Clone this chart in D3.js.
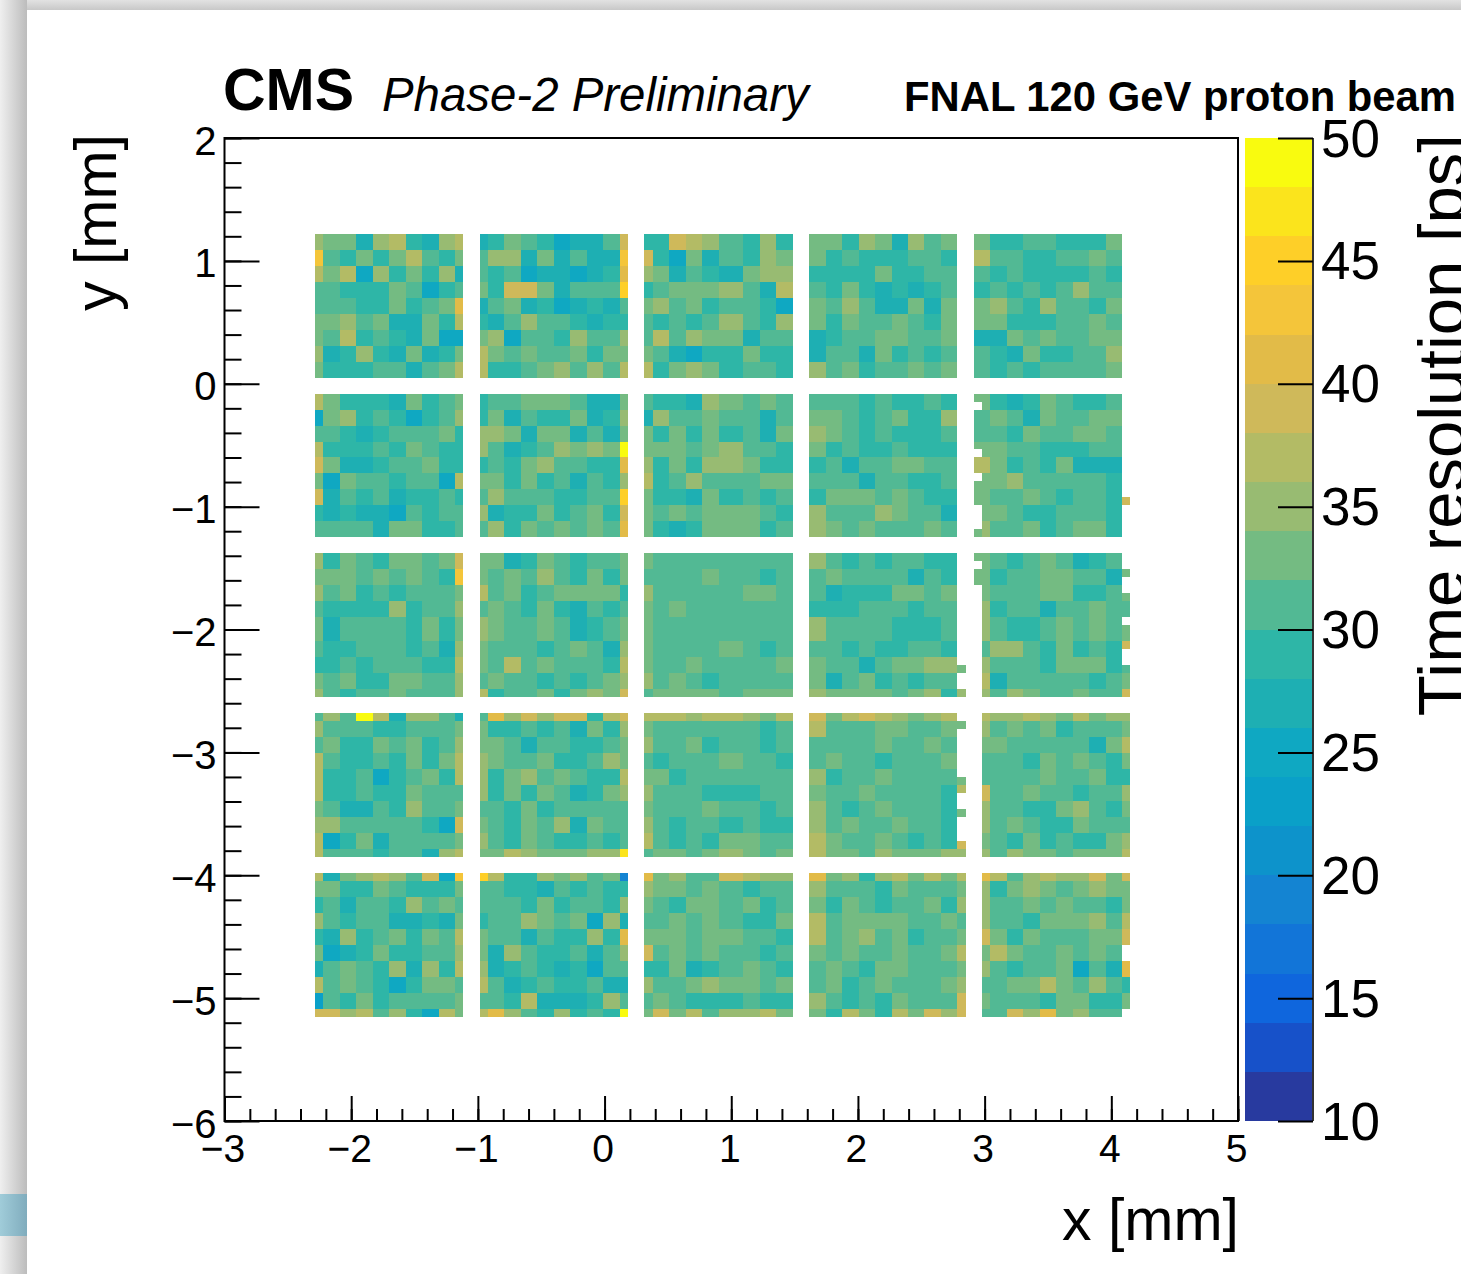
<!DOCTYPE html>
<html lang="en">
<head>
  <meta charset="UTF-8">
  <title>Time resolution map</title>
  <script src="https://d3js.org/d3.v7.min.js"></script>
  <style>
    body { margin: 0; background: #fff; overflow: hidden; }
    svg { display: block; font-family: "Liberation Sans", Arial, sans-serif; }
    .domain { display: none; }
  </style>
</head>
<body>
<svg></svg>
<script>
  // one character per cell: colour band index in base 20 (9 = 28-30 ps, a = 30-32 ps ...), '.' = no data
  const pad11 = ["cbb8cd98cd","ga9b9bda9b","dbd7c9b9c8","aa999ba79a","aaa99b9abf","bbcab88b9d","bad9a98b77","c89c98b89b","b999aa8abd"]
  const pad12 = ["89ba9788ae","acc8b8a88g","a9a788789f","b9eeb8aaah","8ab897898a","98acaa9899","bc7aa9caac","dbabaab9bb","d99abcacad"]
  const pad13 = ["99edca9c9","e97b8a9cb","cb8a98bcc","9abbbca8d","bcab9aa97","a9a9aca9c","adacbb8aa","ba8799b99","d9bcb9aa9"]
  const pad14 = ["bb9cb8cab","b9a999aa9","9999b99aa","a9b98989a","baca88b8b","b9baaba9b","89aabbaab","8aa8b9a9a","cab9aabab"]
  const pad15 = ["b99aa999b","daa99aaba","a9a9999a9","9a9a9acaa","bca9caa9b","bb999aaba","88babaabb","a98b99aac","a9a9aaaab"]

  const pad21 = ["db9998b9ab","7bc9a979ac","aa989aaab9","d999a9ba99","eb889aab99","b7baa9aa7d","e8a9a899a9","989887a9aa","aaaa8bb99a"]
  const pad22 = ["9aabbba88b","9b8a99b89c","ccb8bb8a8b","ca89acbcbj","9a9bcaa99f","bb9b9a8a9c","acaaa99aah","c899b9ab9e","ac9bababaf"]
  const pad23 = ["a998cbaba","8caabaa8a","b9b9b9a8b","bbbabcaa9","c9b9ccb99","d9acaaabb","b998b9a9a","bababbba9","b989bbb9a"]
  const pad24 = ["aaa9a99a9","bba9ab99c","cba9a999a","b9a99a999","9a8aabbaa","aaa8aa99a","9bbbaba99","caaacbaa8","cbabaaaba"]
  const pad25 = ["989ba99a","ba8baabb","a9baabba","baa999aa","b9a9b888","bcaaaaa9","aaba9aa9","ba99aaa9","aab9abb9"]

  const pad31 = ["c9ba9bbabe","bbbababa9g","cab9a9aaab","a9999c9aac","b8aaaa9b9b","a99aaa9a8c","99a9aaa99d","bab99bbaac","ca9aabaaac"]
  const pad32 = ["bb89ba9aab","babaca9b9b","dab9abbbb9","aba9b98a9a","cbaaba89ab","baaa9aba8c","badabaaa9d","abaa9a9abc","d9aab9bcbe"]
  const pad33 = ["baaaaaaaa","aaaabaa9a","caaaaabba","babaaaaaa","baaaaaaaa","baaaaba9a","baabaaaab","caba9aaaa","abbbbabbb"]
  const pad34 = ["ca9a9aa99","abaaaa8a9","a8999bbab","999aaa9aa","caaaa999a","aa9a99aa9","baa8abbcc","b8ab9a9aa","cbbbbabc9"]
  const pad35 = ["a9aba89a","9aabbaa8","aaabb99a","9aa8aaba","a99ababa","cca9b9a9","aaa9bbb9","8aaaaa9a","acbaabaa"]

  const pad41 = ["acajd8cca8","caaa99aaab","ab99bab9ac","da99a9b9bd","d99a79ab9d","d99a99baaa","ba88a9caab","ccaaaaa97e","d79b8aaaab","daaa9aa8cd"]
  const pad42 = ["afcecee9de","b99a9a8b9c","bba8aa99ab","cbaab99acb","c9bcaba99d","c9b9ba89bc","aa9b9aaaaa","ba9bac8baa","ca9ba99a9a","bbdcbbbcci"]
  const pad43 = ["dddcddcbd","baaaaaa9a","caab9aa9a","a9aaabaa9","bb9aaaaaa","caaa999aa","baaabaa9a","ca9aa9a99","da9a9bbaa","abbabcbab"]
  const pad44 = ["ebdedcbcd","daaabbaab","aaaabaaba","abaa9aaab","c9aabaaaa","baabaaaa9","ca9abaaa9","cabaabaa9","dbaaba9a9","dbbacbbbc"]
  const pad45 = ["dccdcbdbcc","cabab9aaab","bbaaaaa8bd","aaa9baba9b","aaaabaab99","eaabaa9aac","caa99bca9b","caba99baaa","ba9b9a99bc","cacbbabbbd"]

  const pad51 = ["d8bcdcae7g","bb99ba999b","9a8aa9caba","ca9aa8898b","98c9ab9bad","b789b99aac","8aba9c8c9d","daba979bba","6a9b9aaaab","eecdac97db"]
  const pad52 = ["hd99cbcab4","aa998a9a99","aaa9b9aa9c","9aacbab7c8","baa8a99c9f","b8ca99a8ac","c89a9897aa","da89a99a88","aa9d8889ca","dfca9c9a9j"]
  const pad53 = ["fbcaaedcc","cbbaba9aa","ba9bbab9a","aababa99b","bbbabbaa9","eababaa9a","99b89aba9","caabcbbab","aba999a99","bebdaccdb"]
  const pad54 = ["fbc9cdbdb","caaa9baaa","b9ba9aab9","dabbbbaab","dabcab9aa","babaabaab","aba9bbaaa","ab9abaaab","ca9a9baaa","b9db9dbec"]
  const pad55 = ["fdacdccebe","c9bcbabcbb","caababaa9b","caa9bbbcad","eb9baaabbe","bdbaababa.","ca9aab7a8f","aabbdbaca9","baaa9bb99b","aaecfbcaa."]

  // single-bin columns at the pad edges, one character per y bin
  const edge25a = "b.aaaab.dd.bbb...b"
  const edge25b = "bbaaaabbddbbbbbbcc"
  const edge25c = ".............e...."
  const edge34 = "..............b..c"
  const edge35a = "b.bb.............."
  const edge35b = "bbbbbbcccccaaccddc"
  const edge35c = "..b..baa.bbe..abbe"
  const edge44 = ".b......bd..b...ec"
  const edge54 = "dbbccaabbddbbcceee"

  const bandColors = ["#283a9f","#1751c9","#0f66dd","#1275d8","#1484d2","#0d93cb","#0aa0c8","#0fa8c2","#1eafb3","#2eb6a7",
    "#52b994","#74bb82","#98bb72","#b3bb65","#cfb95a","#e2bb48","#f4c53a","#fecf28","#fbe41c","#f9fb0f"]
  const xMajor = [-3,-2,-1,0,1,2,3,4,5]
  const yMajor = [2,1,0,-1,-2,-3,-4,-5,-6]
  const zMajor = [10,15,20,25,30,35,40,45,50]

  const binsEven = [2,2,2,2,2,2,2,2,2]
  const binsEnds = [1,2,2,2,2,2,2,2,2,1]
  const binsThird = [1,2,2,2,2,3,2,2,2]
  const binsInner = [2,2,2,2,2,2,2,2]
  const binsRow3 = [2,2,2,2,3,2,2,2,1]

  const binSize = 0.065, x0 = -2.285, y0 = 1.22
  const width = 1461, height = 1274

  const x = d3.scaleLinear().domain([-3, 5]).range([224.5, 1238])
  const y = d3.scaleLinear().domain([-6, 2]).range([1121, 138])
  const z = d3.scaleLinear().domain([10, 50]).range([1121, 138])
  const color = d3.scaleQuantize().domain([10, 50]).range(bandColors)

  const value = c => 11 + 2 * parseInt(c, 20)

  const svg = d3.select('svg')
      .attr('width', width)
      .attr('height', height)
      .attr('viewBox', [0, 0, width, height])

  // the screenshot's window edge around the page
  const defs = svg.append('defs')
  const fade = (id, x2, y2, from, to) => defs.append('linearGradient')
      .attr('id', id).attr('x2', x2).attr('y2', y2)
      .call(g => g.append('stop').attr('offset', 0).attr('stop-color', from))
      .call(g => g.append('stop').attr('offset', 1).attr('stop-color', to))
  fade('edgeLeft', 1, 0, '#efefef', '#bcbcbc')
  fade('edgeTop', 0, 1, '#e2e2e2', '#c8c8c8')
  fade('edgeTeal', 1, 0, '#a0ccd9', '#80acbd')
  svg.append('rect').attr('width', width).attr('height', 10).attr('fill', 'url(#edgeTop)')
  svg.append('rect').attr('width', 27).attr('height', height).attr('fill', 'url(#edgeLeft)')
  svg.append('rect').attr('y', 1194).attr('width', 27).attr('height', 42).attr('fill', 'url(#edgeTeal)')

  const padList = [
    [pad11,0,0,binsEven,binsEnds,0],[pad12,0,1,binsEven,binsEnds,0],[pad13,0,2,binsEven,binsThird,0],[pad14,0,3,binsEven,binsEven,0],[pad15,0,4,binsEven,binsEven,0],
    [pad21,1,0,binsEven,binsEnds,0],[pad22,1,1,binsEven,binsEnds,0],[pad23,1,2,binsEven,binsThird,0],[pad24,1,3,binsEven,binsEven,0],[pad25,1,4,binsEven,binsInner,2],
    [pad31,2,0,binsRow3,binsEnds,0],[pad32,2,1,binsRow3,binsEnds,0],[pad33,2,2,binsRow3,binsThird,0],[pad34,2,3,binsRow3,binsEven,0],[pad35,2,4,binsRow3,binsInner,2],
    [pad41,3,0,binsEnds,binsEnds,0],[pad42,3,1,binsEnds,binsEnds,0],[pad43,3,2,binsEnds,binsThird,0],[pad44,3,3,binsEnds,binsEven,0],[pad45,3,4,binsEnds,binsEnds,1],
    [pad51,4,0,binsEnds,binsEnds,0],[pad52,4,1,binsEnds,binsEnds,0],[pad53,4,2,binsEnds,binsThird,0],[pad54,4,3,binsEnds,binsEven,0],[pad55,4,4,binsEnds,binsEnds,1]
  ]
  const edgeList = [
    [edge25a,1,80],[edge25b,1,81],[edge25c,1,98],
    [edge34,2,78],[edge35a,2,80],[edge35b,2,81],[edge35c,2,98],
    [edge44,3,78],[edge54,4,78]
  ]

  const cells = []
  padList.forEach(([rows, r, c, yBins, xBins, shift]) => {
    let j = r * 20
    rows.forEach((row, ri) => {
      let i = c * 20 + shift
      row.split('').forEach((ch, ci) => {
        if (ch !== '.') cells.push({i, j, w: xBins[ci], h: yBins[ri], v: value(ch)})
        i += xBins[ci]
      })
      j += yBins[ri]
    })
  })
  edgeList.forEach(([col, r, i]) => {
    col.split('').forEach((ch, k) => {
      if (ch !== '.') cells.push({i, j: r * 20 + k, w: 1, h: 1, v: value(ch)})
    })
  })

  svg.append('g')
      .attr('shape-rendering', 'crispEdges')
      .selectAll('rect')
      .data(cells)
      .join('rect')
      .attr('x', d => x(x0 + d.i * binSize))
      .attr('y', d => y(y0 - d.j * binSize))
      .attr('width', d => x(x0 + (d.i + d.w) * binSize) - x(x0 + d.i * binSize))
      .attr('height', d => y(y0 - (d.j + d.h) * binSize) - y(y0 - d.j * binSize))
      .attr('fill', d => color(d.v))

  svg.append('rect')
      .attr('x', x(-3)).attr('y', y(2))
      .attr('width', x(5) - x(-3)).attr('height', y(-6) - y(2))
      .attr('fill', 'none').attr('stroke', '#000').attr('stroke-width', 2)

  const styleTicks = (g, size) => g
      .call(s => s.selectAll('.tick line').attr('stroke', '#000').attr('stroke-width', 2))
      .call(s => s.selectAll('.tick text').attr('font-size', size).attr('fill', '#000').attr('font-family', 'Liberation Sans'))

  // minor ticks
  svg.append('g')
      .attr('transform', `translate(0,${y(-6)})`)
      .call(d3.axisBottom(x).tickValues(d3.range(-3, 5.01, 0.2)).tickSize(-12).tickFormat(''))
      .call(styleTicks, 38)
  svg.append('g')
      .attr('transform', `translate(${x(-3)},0)`)
      .call(d3.axisLeft(y).tickValues(d3.range(-6, 2.01, 0.2)).tickSize(-17).tickFormat(''))
      .call(styleTicks, 38)

  // major ticks with labels
  svg.append('g')
      .attr('transform', `translate(0,${y(-6)})`)
      .call(d3.axisBottom(x).tickValues(xMajor).tickSize(-25).tickPadding(13))
      .call(styleTicks, 39)
      .call(g => g.selectAll('.tick text').attr('dx', '-2px'))
  svg.append('g')
      .attr('transform', `translate(${x(-3)},0)`)
      .call(d3.axisLeft(y).tickValues(yMajor).tickSize(-35).tickPadding(8))
      .call(styleTicks, 40)
      .call(g => g.selectAll('.tick text').attr('dy', '0.4em'))

  // palette
  const cbLeft = 1245, cbRight = 1313
  svg.append('g')
      .attr('shape-rendering', 'crispEdges')
      .selectAll('rect')
      .data(bandColors)
      .join('rect')
      .attr('x', cbLeft)
      .attr('width', cbRight - cbLeft)
      .attr('y', (d, i) => z(12 + 2 * i))
      .attr('height', z(10) - z(12))
      .attr('fill', d => d)
  svg.append('line')
      .attr('x1', cbRight).attr('x2', cbRight)
      .attr('y1', z(50)).attr('y2', z(10))
      .attr('stroke', '#333').attr('stroke-width', 2)
  svg.append('g')
      .attr('transform', `translate(${cbRight},0)`)
      .call(d3.axisRight(z).tickValues(zMajor).tickSize(-35).tickPadding(8))
      .call(styleTicks, 53)
      .call(g => g.selectAll('.tick text').attr('dy', '0.34em'))

  // titles
  const label = (txt, px, py, size, opts = {}) => svg.append('text')
      .attr('transform', opts.rotate ? `translate(${px},${py}) rotate(-90)` : `translate(${px},${py})`)
      .attr('text-anchor', opts.anchor || 'start')
      .attr('font-size', size)
      .attr('font-weight', opts.weight || 'normal')
      .attr('font-style', opts.style || 'normal')
      .text(txt)

  label('CMS', 223, 110, 59, {weight: 'bold'})
  label('Phase-2 Preliminary', 382, 111, 47.4, {style: 'italic'})
  label('FNAL 120 GeV proton beam', 904, 111, 41.8, {weight: 'bold'})
  label('x [mm]', 1239, 1240, 59, {anchor: 'end'})
  label('y [mm]', 116, 134, 59, {anchor: 'end', rotate: true})
  label('Time resolution [ps]', 1465, 134, 67, {anchor: 'end', rotate: true})
</script>
</body>
</html>
